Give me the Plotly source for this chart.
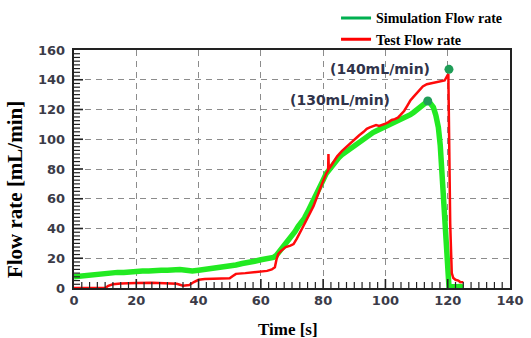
import plotly.graph_objects as go

# Simulated flow rate (time [s], flow [mL/min])
sim_t = [0, 2, 4, 6, 8, 10, 12, 14, 16, 18, 20, 22, 24, 26, 28, 30, 32, 34, 36, 38,
         40, 42, 44, 46, 48, 50, 52, 54, 56, 58, 60, 62, 64, 65, 66, 67, 68, 69, 70,
         71, 72, 73, 74, 75, 76, 77, 78, 79, 80, 81, 82, 83, 84, 85, 86, 87, 88, 89,
         90, 91, 92, 93, 94, 95, 96, 97, 98, 99, 100, 101, 102, 103, 104, 105, 106,
         107, 108, 109, 110, 111, 112, 113, 113.6, 114.5, 115.4, 116.2, 117, 117.6,
         118.1, 118.6, 119.1, 119.4, 119.7, 120.0, 120.2, 120.4, 121, 122, 123, 124, 125]
sim_q = [7.5, 8, 8.5, 8.5, 9, 9.5, 10, 10.5, 10.5, 11, 11.5, 11.5, 11.5, 12, 12, 12,
         12.5, 12.5, 12, 11.5, 12, 12.5, 13.5, 14, 14.5, 15, 15.5, 16.5, 17, 18, 19,
         19.5, 20.5, 22, 24.5, 27, 29.5, 32, 34.5, 38, 41.5, 44, 47, 51, 55, 59.5, 64,
         68, 72.5, 77, 80, 82, 85, 87.5, 89.5, 91, 93, 94.5, 96, 98, 99.5, 101, 102.5,
         103.5, 104.5, 105.5, 106.5, 107, 108, 109, 110, 110.5, 111.5, 112.5, 114, 115,
         116.5, 118, 119.5, 121, 123, 125, 125.7, 124, 121.5, 116, 108, 96, 79, 65, 52,
         40, 27, 14, 5, 1, 0.8, 1.2, 0.8, 1, 0.5]

# Measured flow rate
test_t = [0, 10, 11, 12.5, 15, 17, 20, 25, 30, 33, 35, 37, 38.5, 40, 42, 45, 48, 50,
          51, 52, 55, 58, 60, 62, 63.5, 64.5, 65, 65.6, 66.5, 68, 69.5, 70.5, 71.5,
          72.6, 73.5, 74.7, 75.8, 76.9, 78, 79, 80, 81, 81.6, 81.7, 81.8, 82.5, 83.3,
          84.5, 86, 87.5, 88.6, 90, 91.5, 93, 94, 95, 96, 97, 98, 99, 100, 101, 102,
          103, 104, 104.7, 106, 107, 108, 109, 110, 111, 112, 113.3, 114.5, 116, 117.5,
          119, 120.2, 120.8, 121.3, 121.8, 122.5, 123.4, 124, 125]
test_q = [0, 0, 1.5, 2.5, 3, 3.3, 3.3, 3.5, 3, 2.8, 1.5, 2, 4, 5.5, 6, 6, 6, 6.5, 8,
          9.5, 10, 10.5, 11, 11.5, 12.5, 14, 19, 23, 25, 27.5, 28.5, 29.5, 33, 37, 41,
          46, 50, 55, 61, 67, 72, 77, 79, 90, 80, 82, 85, 88.5, 92, 95, 97, 99.5, 102.5,
          105, 107, 108, 108.5, 109.5, 109, 109.5, 110.5, 111.5, 113, 113.5, 114.5, 116,
          119, 122.5, 126, 128.5, 131, 133.5, 135.5, 137, 137.5, 138, 138.5, 139.5, 144,
          43, 10, 6.7, 5.5, 5, 4, 3.8]

# Peak markers and their labels
peak_t = [113.6, 120.4]
peak_q = [125.7, 147]
peak_labels = ["(130mL/min)", "(140mL/min)"]
label_t = [85.5, 98.4]
label_q = [126.4, 147.2]

X_RANGE = [0, 140]
Y_RANGE = [0, 160]
MAJOR_STEP = 20
MINOR_STEP = 2.5

fig = go.Figure()

fig.add_trace(go.Scatter(x=sim_t, y=sim_q, mode="lines",
                         line=dict(color="#22ea22", width=5.5),
                         showlegend=False, hoverinfo="skip"))
fig.add_trace(go.Scatter(x=test_t, y=test_q, mode="lines",
                         line=dict(color="#ff0a0a", width=2.5),
                         showlegend=False, hoverinfo="skip"))
fig.add_trace(go.Scatter(x=peak_t, y=peak_q, mode="markers",
                         marker=dict(color="#1f9d57", size=9),
                         showlegend=False, cliponaxis=False))

# legend entries
fig.add_trace(go.Scatter(x=[None], y=[None], mode="lines",
                         line=dict(color="#00b050", width=3),
                         name="Simulation Flow rate"))
fig.add_trace(go.Scatter(x=[None], y=[None], mode="lines",
                         line=dict(color="#ff0000", width=3),
                         name="Test Flow rate"))

for t, q, s in zip(label_t, label_q, peak_labels):
    fig.add_annotation(x=t, y=q, text=s, showarrow=False,
                       font=dict(family="DejaVu Sans", size=14, color="#30334a",
                                 weight="bold"))

tick_font = dict(family="DejaVu Sans", size=13, color="#3b3b48", weight="bold")

main_axis = dict(
    showline=True, linecolor="#222222", linewidth=1.5, mirror=True,
    tickmode="linear", tick0=0, dtick=MAJOR_STEP, ticks="",
    showgrid=True, gridcolor="#8c8c8c", gridwidth=1.3, griddash="6px,5px",
    zeroline=False, tickfont=tick_font,
)
fig.update_xaxes(range=X_RANGE, **main_axis)
fig.update_yaxes(range=Y_RANGE, ticksuffix=" ", **main_axis)


def tick_positions(lo, hi, step):
    n = int(round((hi - lo) / step))
    return [lo + i * step for i in range(1, n)]


# inward tick marks: lengths in pixels, positions on the data scales
for v in tick_positions(X_RANGE[0], X_RANGE[1], MINOR_STEP):
    major = abs(v / MAJOR_STEP - round(v / MAJOR_STEP)) < 1e-9
    fig.add_shape(type="line", xref="x", yref="y", ysizemode="pixel",
                  yanchor=Y_RANGE[0], x0=v, x1=v, y0=0, y1=9 if major else 6,
                  line=dict(color="#222222", width=1.6 if major else 1.2),
                  layer="above")
for v in tick_positions(Y_RANGE[0], Y_RANGE[1], MINOR_STEP):
    major = abs(v / MAJOR_STEP - round(v / MAJOR_STEP)) < 1e-9
    fig.add_shape(type="line", xref="x", yref="y", xsizemode="pixel",
                  xanchor=X_RANGE[0], y0=v, y1=v, x0=0, x1=9 if major else 6,
                  line=dict(color="#222222", width=1.6 if major else 1.2),
                  layer="above")

fig.add_annotation(xref="paper", yref="paper", x=0.491, y=-0.176,
                   xanchor="center", yanchor="middle",
                   text="Time [s]", showarrow=False,
                   font=dict(family="Liberation Serif", size=17, color="#000000",
                             weight="bold"))
fig.add_annotation(xref="paper", yref="paper", x=-0.135, y=0.412,
                   xanchor="center", yanchor="middle",
                   text="Flow rate [mL/min]", showarrow=False, textangle=-90,
                   font=dict(family="Liberation Serif", size=21, color="#000000",
                             weight="bold"))

fig.update_layout(
    width=531, height=338,
    margin=dict(l=74, r=21, t=50, b=50, autoexpand=False),
    paper_bgcolor="#ffffff", plot_bgcolor="#ffffff",
    legend=dict(x=0.601, y=1.2, xanchor="left", yanchor="top",
                bgcolor="rgba(0,0,0,0)", tracegroupgap=0,
                font=dict(family="Liberation Serif", size=14, color="#000000",
                          weight="bold")),
)

fig.write_html("out.html")
